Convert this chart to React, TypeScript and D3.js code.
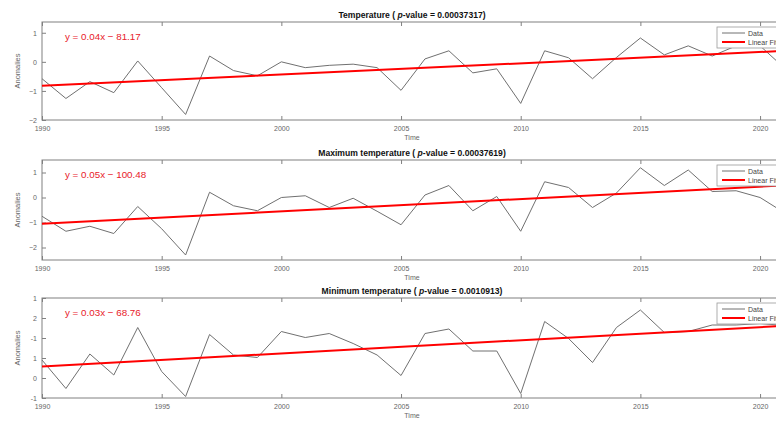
import React, { useEffect, useRef } from "react";
import * as d3 from "d3";

const years = [
  1990, 1991, 1992, 1993, 1994, 1995, 1996, 1997, 1998, 1999, 2000, 2001, 2002, 2003, 2004, 2005,
  2006, 2007, 2008, 2009, 2010, 2011, 2012, 2013, 2014, 2015, 2016, 2017, 2018, 2019, 2020, 2021,
];
const tempValues = [
  -0.58, -1.26, -0.68, -1.06, 0.03, -0.89, -1.81, 0.2, -0.3, -0.48, 0.0, -0.2, -0.12, -0.08, -0.2, -0.98,
  0.1, 0.38, -0.38, -0.24, -1.43, 0.38, 0.14, -0.58, 0.15, 0.82, 0.24, 0.55, 0.2, 0.55, 0.55, -0.2,
];
const maxValues = [
  -0.75, -1.35, -1.15, -1.44, -0.36, -1.25, -2.3, 0.21, -0.33, -0.53, 0.0, 0.07, -0.4, -0.03, -0.55, -1.09,
  0.1, 0.48, -0.53, 0.04, -1.35, 0.63, 0.4, -0.4, 0.18, 1.19, 0.48, 1.1, 0.24, 0.27, 0.0, -0.6,
];
const minValues = [
  -0.24, -0.81, -0.12, -0.54, 0.41, -0.47, -0.97, 0.27, -0.14, -0.19, 0.33, 0.21, 0.29, 0.09, -0.14, -0.55,
  0.29, 0.38, -0.06, -0.06, -0.91, 0.53, 0.19, -0.29, 0.41, 0.76, 0.31, 0.33, 0.46, 0.46, 0.49, 0.45,
];

const panelTitles = ["Temperature", "Maximum temperature", "Minimum temperature"];
const pValues = ["0.00037317", "0.00037619", "0.0010913"];
const fitEquations = ["y = 0.04x \u2212 81.17", "y = 0.05x \u2212 100.48", "y = 0.03x \u2212 68.76"];
const legendLabels = ["Data", "Linear Fit"];

const xTicks = [1990, 1995, 2000, 2005, 2010, 2015, 2020];
const tempTicks = [-2, -1, 0, 1];
const maxTicks = [-2, -1, 0, 1];
const minTicks = [-1, -0.6, -0.2, 0.2, 0.6, 1];
// labels as printed on the minimum panel, bottom to top
const minTickLabels = ["-1", "0", "1", "-1", "2", "1"];

const FONT = "'Liberation Sans', Arial, sans-serif";

const panels = [
  { values: tempValues, ticks: tempTicks, labels: null as string[] | null, domain: [-2, 1.37], top: 22, bottom: 120 },
  { values: maxValues, ticks: maxTicks, labels: null as string[] | null, domain: [-2.5, 1.5], top: 160, bottom: 260 },
  { values: minValues, ticks: minTicks, labels: minTickLabels, domain: [-1, 1], top: 298, bottom: 398 },
];

function linearFit(xs: number[], ys: number[]) {
  const mx = d3.mean(xs) as number;
  const my = d3.mean(ys) as number;
  let num = 0;
  let den = 0;
  xs.forEach((x, i) => {
    num += (x - mx) * (ys[i] - my);
    den += (x - mx) * (x - mx);
  });
  const slope = num / den;
  return { slope, intercept: my - slope * mx };
}

export default function App() {
  const ref = useRef<SVGSVGElement>(null);

  useEffect(() => {
    const svg = d3.select(ref.current);
    svg.selectAll("*").remove();

    const x = d3.scaleLinear().domain([1990, 2021]).range([42, 784]);

    panels.forEach((p, i) => {
      const y = d3.scaleLinear().domain(p.domain).range([p.bottom, p.top]);
      const g = svg.append("g");

      g.append("rect")
        .attr("x", x(1990))
        .attr("y", p.top)
        .attr("width", x(2021) - x(1990))
        .attr("height", p.bottom - p.top)
        .attr("fill", "white")
        .attr("stroke", "#808080")
        .attr("stroke-width", 1);

      const xAxis = g.append("g")
        .attr("transform", `translate(0,${p.bottom})`)
        .call(d3.axisBottom(x).tickValues(xTicks).tickFormat(d3.format("d")).tickSize(-4).tickSizeOuter(0).tickPadding(6));
      xAxis.select(".domain").remove();

      const xTop = g.append("g")
        .attr("transform", `translate(0,${p.top})`)
        .call(d3.axisTop(x).tickValues(xTicks).tickFormat(() => "").tickSize(-4).tickSizeOuter(0));
      xTop.select(".domain").remove();

      const labels = p.labels;
      const yAxis = g.append("g")
        .attr("transform", `translate(${x(1990)},0)`)
        .call(
          d3.axisLeft(y)
            .tickValues(p.ticks)
            .tickFormat((d, k) => (labels ? labels[k] : d3.format("d")(d as number)))
            .tickSize(-4)
            .tickSizeOuter(0)
            .tickPadding(5)
        );
      yAxis.select(".domain").remove();

      g.selectAll(".tick line").attr("stroke", "#808080");
      g.selectAll(".tick text").attr("fill", "#666").attr("font-size", 7).attr("font-family", FONT);

      // data line
      const line = d3.line<number>()
        .x((d, k) => x(years[k]))
        .y((d) => y(d));
      g.append("path")
        .datum(p.values)
        .attr("d", line)
        .attr("fill", "none")
        .attr("stroke", "#707070")
        .attr("stroke-width", 1);

      // linear fit
      const fit = linearFit(years, p.values);
      const fx = [1990, 2021];
      g.append("path")
        .datum(fx)
        .attr("d", d3.line<number>().x((d) => x(d)).y((d) => y(fit.slope * d + fit.intercept)))
        .attr("stroke", "#ff0000")
        .attr("stroke-width", 2);

      g.append("text")
        .attr("x", 65)
        .attr("y", p.top + 17.5)
        .attr("fill", "#e8202a")
        .attr("font-size", 9.8)
        .attr("font-family", FONT)
        .text(fitEquations[i]);

      const title = g.append("text")
        .attr("x", 412)
        .attr("y", p.top - 4)
        .attr("text-anchor", "middle")
        .attr("font-size", 8.6)
        .attr("font-weight", "bold")
        .attr("font-family", FONT)
        .attr("fill", "#111");
      title.append("tspan").text(`${panelTitles[i]} ( `);
      title.append("tspan").attr("font-style", "italic").text("p");
      title.append("tspan").text(`-value = ${pValues[i]})`);

      g.append("text")
        .attr("x", 412)
        .attr("y", p.bottom + 20)
        .attr("text-anchor", "middle")
        .attr("font-size", 7)
        .attr("font-family", FONT)
        .attr("fill", "#666")
        .text("Time");

      g.append("text")
        .attr("transform", `translate(20,${(p.top + p.bottom) / 2}) rotate(-90)`)
        .attr("text-anchor", "middle")
        .attr("font-size", 7.5)
        .attr("font-family", FONT)
        .attr("fill", "#666")
        .text("Anomalies");

      // legend
      const lg = g.append("g").attr("transform", `translate(717,${p.top + 5})`);
      lg.append("rect")
        .attr("width", 80)
        .attr("height", 21)
        .attr("fill", "white")
        .attr("stroke", "#999")
        .attr("stroke-width", 0.8);
      legendLabels.forEach((lab, k) => {
        const ly = 6 + k * 9;
        lg.append("line")
          .attr("x1", 5)
          .attr("x2", 28)
          .attr("y1", ly)
          .attr("y2", ly)
          .attr("stroke", k === 0 ? "#707070" : "#ff0000")
          .attr("stroke-width", k === 0 ? 1 : 2);
        lg.append("text")
          .attr("x", 31)
          .attr("y", ly + 2.5)
          .attr("font-size", 7)
          .attr("font-family", FONT)
          .attr("fill", "#444")
          .text(lab);
      });
    });
  }, []);

  return (
    <svg
      ref={ref}
      width={776}
      height={421}
      style={{ position: "absolute", left: 0, top: 0, background: "white" }}
    />
  );
}
